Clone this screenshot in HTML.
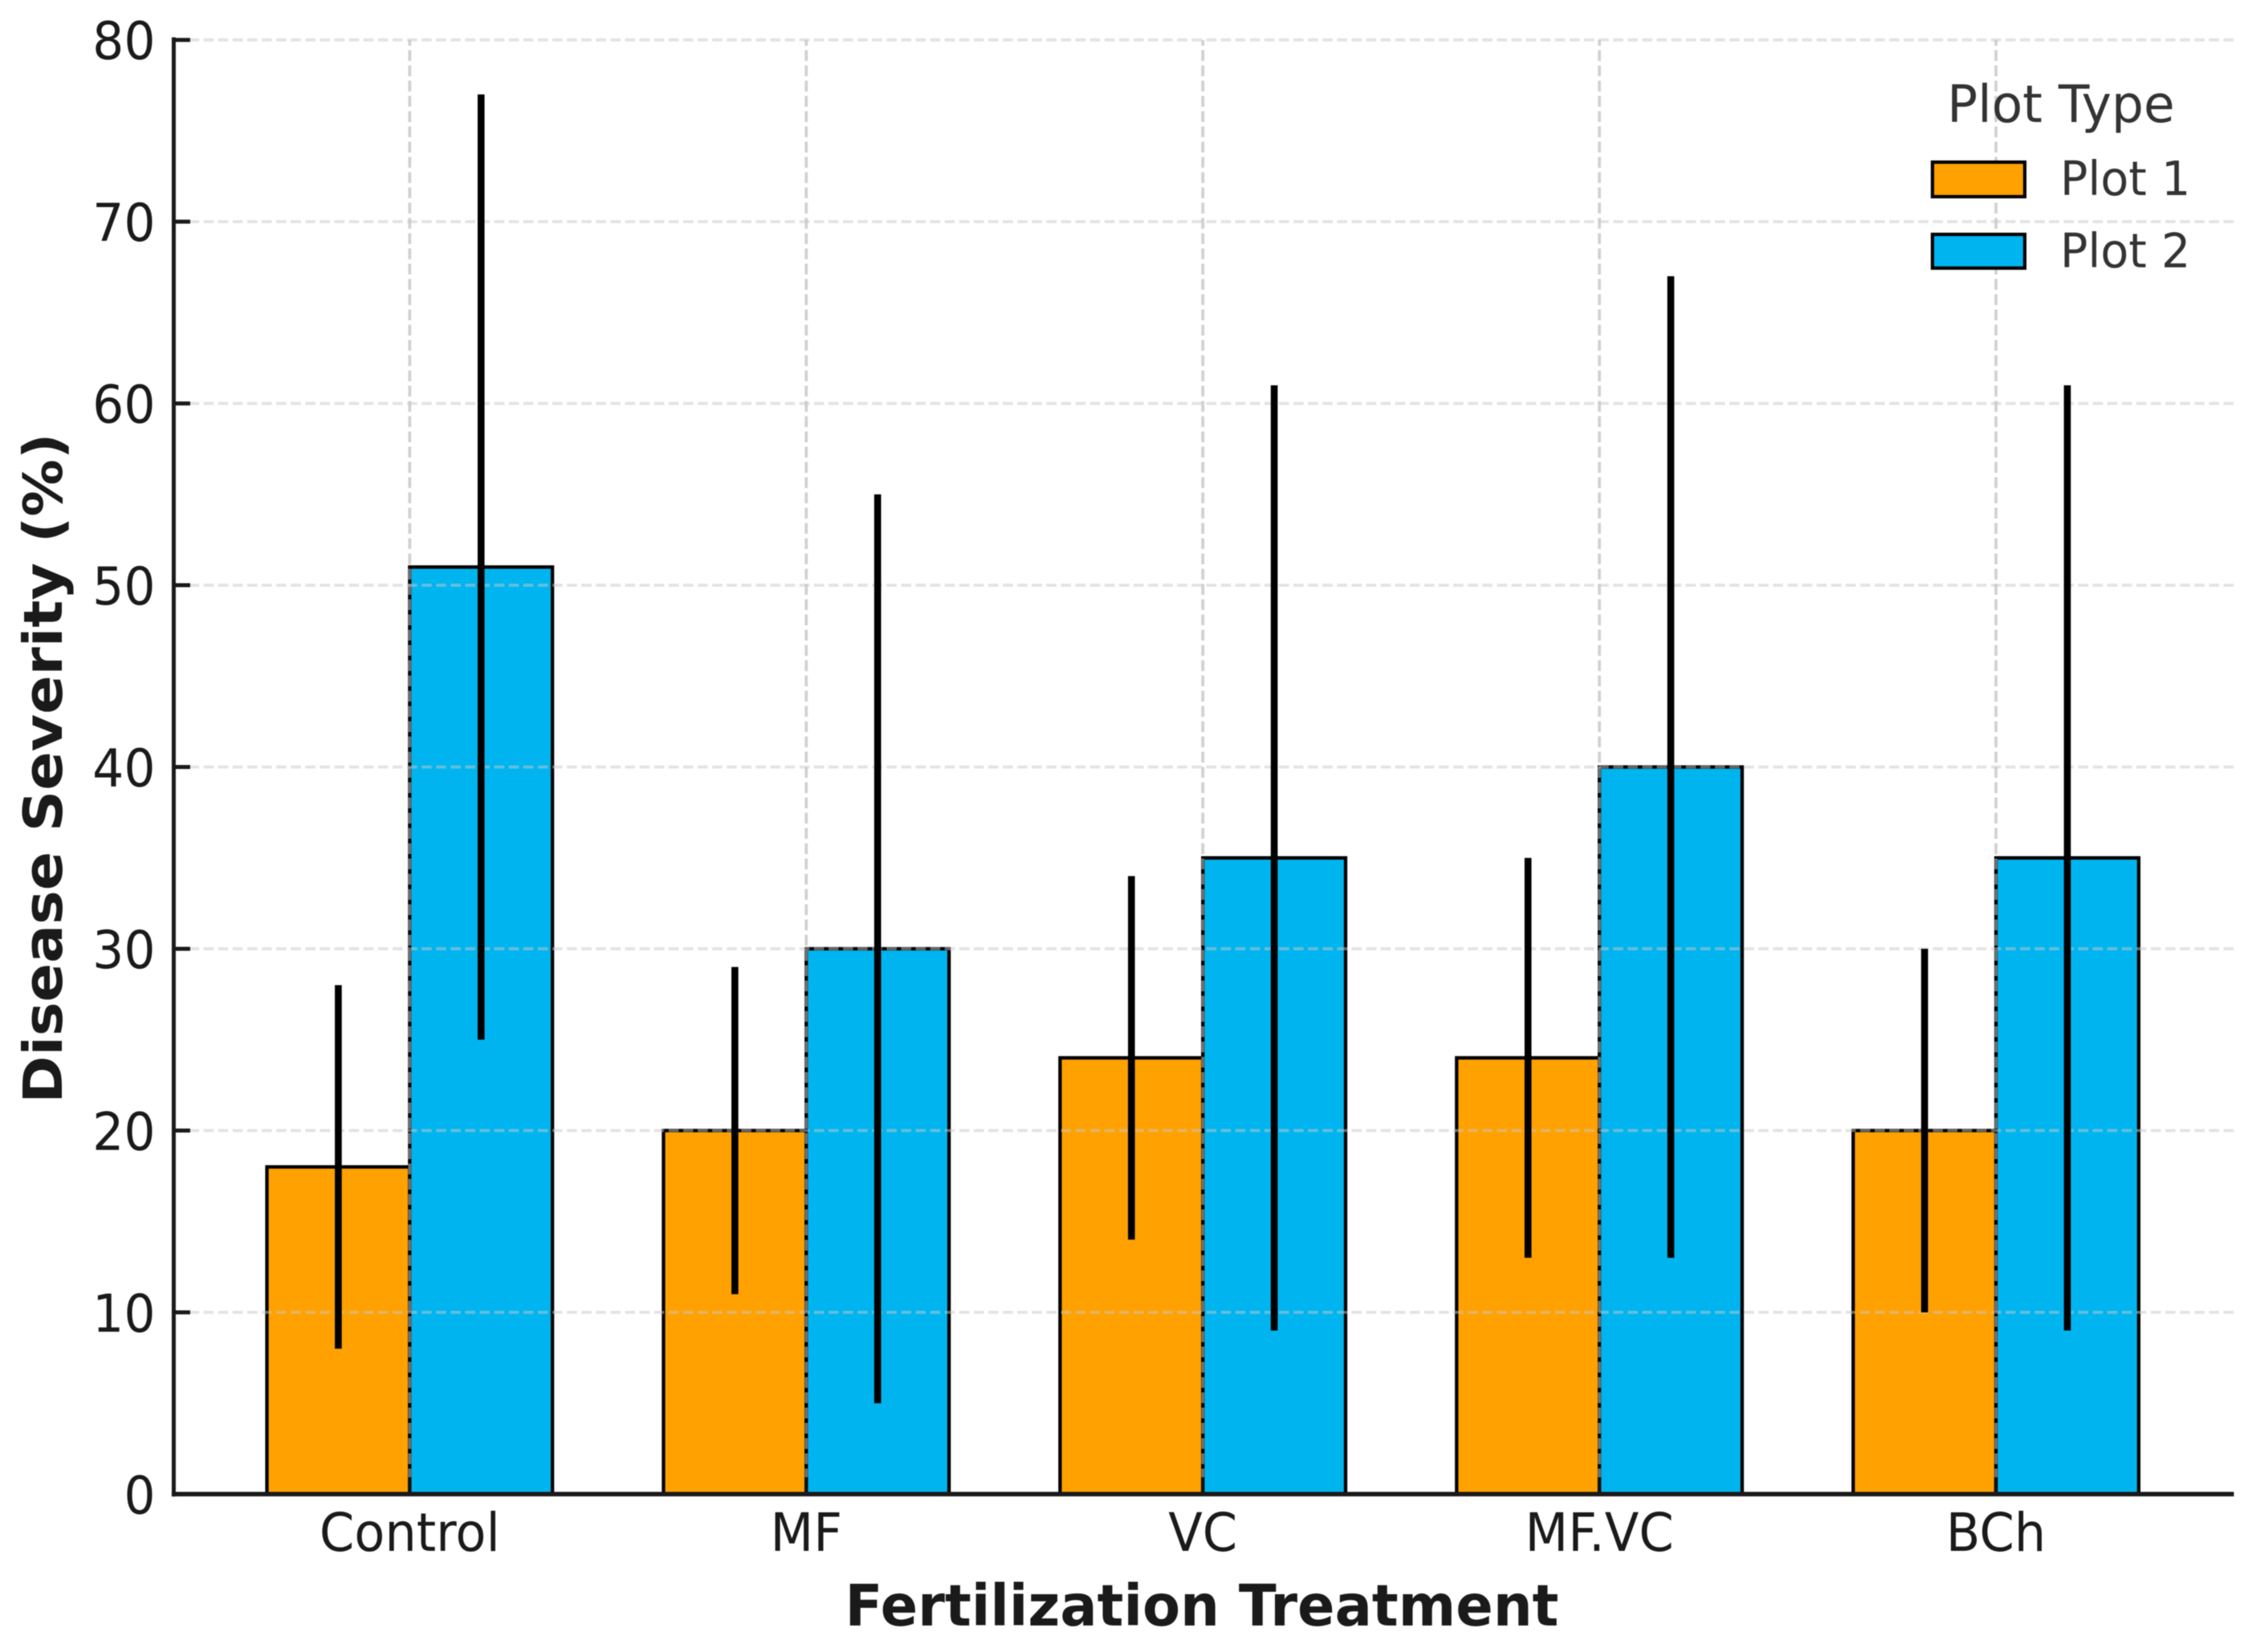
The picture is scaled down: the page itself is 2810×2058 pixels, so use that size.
<!DOCTYPE html>
<html>
<head>
<meta charset="utf-8">
<title>Disease Severity by Fertilization Treatment</title>
<style>
html,body{margin:0;padding:0;background:#fff;}
svg{display:block;width:2810px;height:2058px;filter:blur(.5px);}
text{font-family:"DejaVu Sans","Liberation Sans",sans-serif;}
</style>
</head>
<body>
<svg id="chart" xmlns="http://www.w3.org/2000/svg" width="2810" height="2058" viewBox="0 0 2810 2058"></svg>
<script>
const categories = ['Control', 'MF', 'VC', 'MF.VC', 'BCh'];
const plot1Values = [18, 20, 24, 24, 20];
const plot2Values = [51, 30, 35, 40, 35];
const plot1Errors = [10, 9, 10, 11, 10];
const plot2Errors = [26, 25, 26, 27, 26];
const yTickValues = [0, 10, 20, 30, 40, 50, 60, 70, 80];

const NS = 'http://www.w3.org/2000/svg';
const svg = document.getElementById('chart');
const ORANGE = '#FFA100', BLUE = '#00B5EF', EDGE = '#000000', INK = '#1a1a1a', LEG = '#333333';
const axLeft = 216.4, axBottom = 1861.3, pxPerCat = 493.95, pxPerUnit = 22.645;
const xMin = -0.595, xMax = 4.6, barW = 0.36;
const axRight = axLeft + (xMax - xMin) * pxPerCat;

function xScale(v) { return axLeft + (v - xMin) * pxPerCat; }
function yScale(v) { return axBottom - v * pxPerUnit; }

function mk(tag, attrs, parent) {
  const e = document.createElementNS(NS, tag);
  for (const k in attrs) e.setAttribute(k, attrs[k]);
  (parent || svg).appendChild(e);
  return e;
}
function label(str, x, y, size, anchor, fill, sx) {
  const t = mk('text', {
    transform: 'translate(' + x + ' ' + y + ') scale(' + sx + ' 1)',
    'font-size': size, 'text-anchor': anchor, fill: fill
  });
  t.textContent = str;
  return t;
}

const bg = mk('rect', {x: 0, y: 0, width: 2810, height: 2058, fill: '#ffffff'});



// bars
function drawBars(values, offset, fill, name) {
  values.forEach(function (v, i) {
    const xl = xScale(i + offset), xr = xScale(i + offset + barW);
    const r = mk('rect', {x: xl, y: yScale(v), width: xr - xl, height: yScale(0) - yScale(v),
      fill: fill, stroke: EDGE, 'stroke-width': 4.3});
    
    
  });
}
drawBars(plot1Values, -barW, ORANGE, 'plot-1');
drawBars(plot2Values, 0, BLUE, 'plot-2');

// grid (above bars)
categories.forEach(function (c, i) {
  const g = mk('line', {x1: xScale(i), x2: xScale(i), y1: 1862, y2: yScale(80),
    stroke: '#b4b4b4', 'stroke-opacity': 0.62, 'stroke-width': 3.8, 'stroke-dasharray': '13.5 5.5'});
  
  
});
yTickValues.forEach(function (v) {
  if (v === 0) return;
  const g = mk('line', {x1: axLeft + 1, x2: axRight, y1: yScale(v), y2: yScale(v),
    stroke: '#c8c8c8', 'stroke-opacity': 0.5, 'stroke-width': 3.8, 'stroke-dasharray': '12.6 5.5'});
  
  
});

// error bars
function drawErrors(values, errors, offset, name) {
  values.forEach(function (v, i) {
    const x = xScale(i + offset);
    const l = mk('line', {x1: x, x2: x, y1: yScale(v - errors[i]), y2: yScale(v + errors[i]),
      stroke: '#000000', 'stroke-width': 8.6});
    
    
  });
}
drawErrors(plot1Values, plot1Errors, -barW / 2, 'plot-1');
drawErrors(plot2Values, plot2Errors, barW / 2, 'plot-2');

// ticks + tick labels
yTickValues.forEach(function (v) {
  const tk = mk('line', {x1: axLeft, x2: axLeft + 20.5, y1: yScale(v), y2: yScale(v), stroke: INK, 'stroke-width': 5});
  
  
  const t = label(String(v), 193.5, yScale(v) + 24, 65.5, 'end', INK, 0.94);
  
  
});
categories.forEach(function (c, i) {
  const tk = mk('line', {x1: xScale(i), x2: xScale(i), y1: axBottom, y2: axBottom - 21, stroke: '#111', 'stroke-width': 4.6});
  
  
  const t = label(c, xScale(i), 1932, 65.5, 'middle', INK, 0.95);
  
  
});

// spines
const spineL = mk('line', {x1: axLeft, x2: axLeft, y1: 46.5, y2: axBottom + 3, stroke: INK, 'stroke-width': 5});


const spineB = mk('line', {x1: axLeft - 2.5, x2: axRight, y1: axBottom, y2: axBottom, stroke: INK, 'stroke-width': 5.6});



// axis titles
const xTitle = mk('text', {x: 1497, y: 2025, 'font-size': 71, 'font-weight': 'bold', fill: INK,
  'text-anchor': 'middle', textLength: 889, lengthAdjust: 'spacingAndGlyphs'});
xTitle.textContent = 'Fertilization Treatment';



const yTitle = mk('text', {transform: 'translate(77 957) rotate(-90)', x: 0, y: 0, 'font-size': 67, 'font-weight': 'bold', fill: INK,
  'text-anchor': 'middle', textLength: 835, lengthAdjust: 'spacingAndGlyphs'});
yTitle.textContent = 'Disease Severity (%)';



// legend
const legTitle = label('Plot Type', 2567, 152, 64, 'middle', LEG, 0.985);



const sw1 = mk('rect', {x: 2407, y: 202, width: 115, height: 43, fill: ORANGE, stroke: '#000', 'stroke-width': 4.2});


const lt1 = label('Plot 1', 2566, 243, 59, 'start', LEG, 0.97);



const sw2 = mk('rect', {x: 2407, y: 292, width: 115, height: 42, fill: BLUE, stroke: '#000', 'stroke-width': 4.2});


const lt2 = label('Plot 2', 2566, 333, 59, 'start', LEG, 0.97);


</script>
</body>
</html>
